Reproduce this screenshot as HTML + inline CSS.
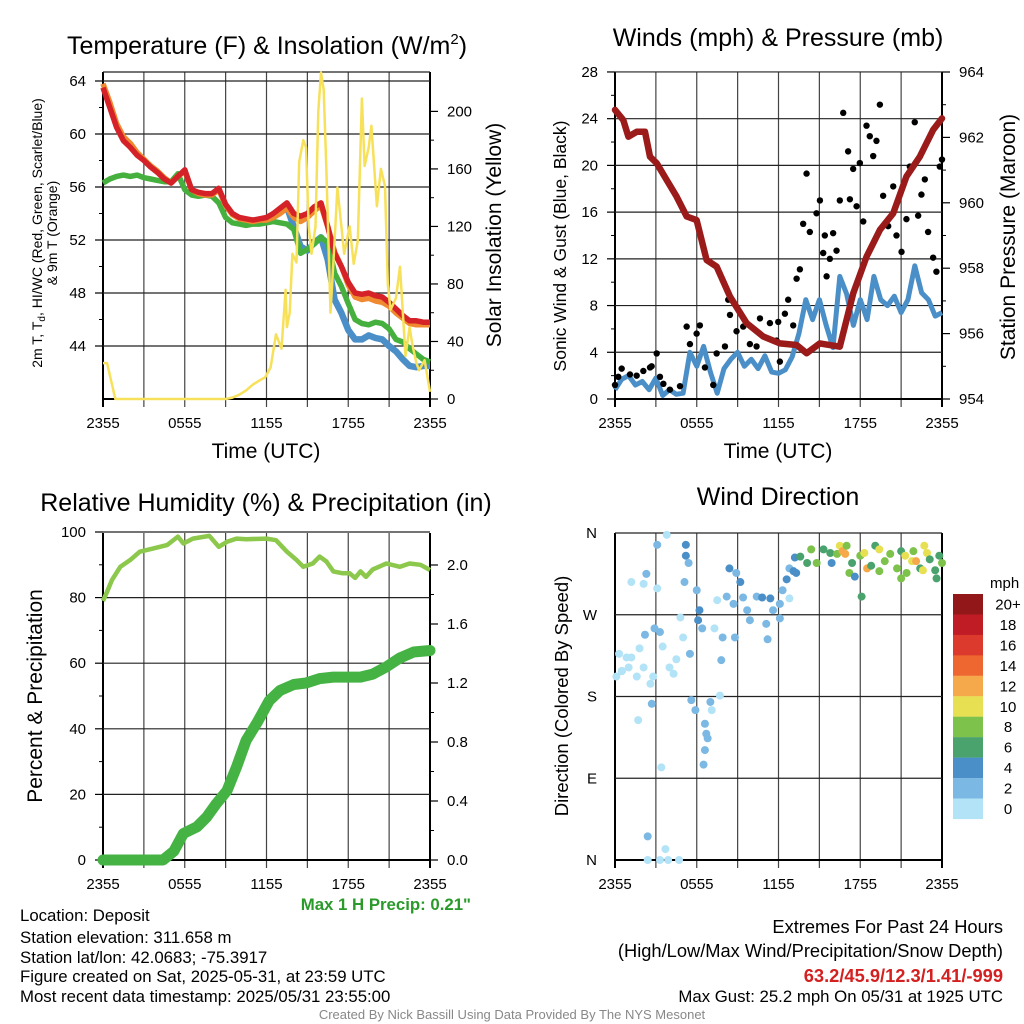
<!DOCTYPE html>
<html><head><meta charset="utf-8"><style>
html,body{margin:0;padding:0;background:#fff;}
svg{display:block;font-family:"Liberation Sans",Arial,sans-serif;}
</style></head><body>
<svg id="chart" xmlns="http://www.w3.org/2000/svg" width="1024" height="1024" viewBox="0 0 1024 1024">
<rect width="1024" height="1024" fill="#fff"/>
<text x="267" y="54" font-size="25" text-anchor="middle">Temperature (F) &amp; Insolation (W/m<tspan font-size="15" dy="-10">2</tspan><tspan dy="10">)</tspan></text>
<text x="778" y="46" font-size="25" text-anchor="middle">Winds (mph) &amp; Pressure (mb)</text>
<text x="266" y="511" font-size="25" text-anchor="middle">Relative Humidity (%) &amp; Precipitation (in)</text>
<text x="778" y="505" font-size="25" text-anchor="middle">Wind Direction</text>
<g id="g1"></g><g id="g2"></g><g id="g3"></g><g id="g4"></g>
<text x="266" y="458" font-size="21" text-anchor="middle">Time (UTC)</text>
<text x="778" y="458" font-size="21" text-anchor="middle">Time (UTC)</text>
<text transform="translate(42,233) rotate(-90)" font-size="14" text-anchor="middle">2m T, T<tspan font-size="10" dy="3">d</tspan><tspan dy="-3">, HI/WC (Red, Green, Scarlet/Blue)</tspan></text>
<text transform="translate(57,233) rotate(-90)" font-size="14" text-anchor="middle">&amp; 9m T (Orange)</text>
<text transform="translate(501,235) rotate(-90)" font-size="21" text-anchor="middle">Solar Insolation (Yellow)</text>
<text transform="translate(566,246) rotate(-90)" font-size="17.5" text-anchor="middle">Sonic Wind &amp; Gust (Blue, Black)</text>
<text transform="translate(1015,237) rotate(-90)" font-size="21" text-anchor="middle">Station Pressure (Maroon)</text>
<text transform="translate(42,696) rotate(-90)" font-size="21" text-anchor="middle">Percent &amp; Precipitation</text>
<text transform="translate(568,696) rotate(-90)" font-size="18.5" text-anchor="middle">Direction (Colored By Speed)</text>
<text x="471" y="910" font-size="16.8" font-weight="bold" fill="#2a9a2a" text-anchor="end">Max 1 H Precip: 0.21"</text>
<g font-size="16.8">
<text x="20" y="921">Location: Deposit</text>
<text x="20" y="943">Station elevation: 311.658 m</text>
<text x="20" y="963">Station lat/lon: 42.0683; -75.3917</text>
<text x="20" y="982">Figure created on Sat, 2025-05-31, at 23:59 UTC</text>
<text x="20" y="1002">Most recent data timestamp: 2025/05/31 23:55:00</text>
</g>
<g font-size="18.3" text-anchor="end">
<text x="1003" y="933">Extremes For Past 24 Hours</text>
<text x="1003" y="957">(High/Low/Max Wind/Precipitation/Snow Depth)</text>
<text x="1003" y="982" font-weight="bold" fill="#d42020">63.2/45.9/12.3/1.41/-999</text>
<text x="1003" y="1002" font-size="16.8">Max Gust: 25.2 mph On 05/31 at 1925 UTC</text>
</g>
<text x="512" y="1019" font-size="13" fill="#888" text-anchor="middle">Created By Nick Bassill Using Data Provided By The NYS Mesonet</text>
</svg>
<script>
// ---------- data ----------
const halfHours = [0,0.5,1,1.5,2,2.5,3,3.5,4,4.5,5,5.5,6,6.5,7,7.5,8,8.5,9,9.5,10,10.5,11,11.5,12,12.5,13,13.5,14,14.5,15,15.5,16,16.5,17,17.5,18,18.5,19,19.5,20,20.5,21,21.5,22,22.5,23,23.5,24];
const tempRed = [63.5,62,60.5,59.5,59,58.4,58,57.5,57.1,56.6,56.3,56.8,57.3,55.8,55.6,55.5,55.5,55.9,54.7,54,53.7,53.6,53.5,53.6,53.7,54,54.4,54.8,54,53.8,54,54.5,54.8,53,51,50,48.8,48,47.9,48,47.8,47.7,47.3,46.8,46.3,45.9,45.9,45.8,45.8];
const temp9m = [63.8,62.4,60.8,59.8,59.3,58.6,58.1,57.6,57.2,56.7,56.3,56.8,57.2,55.8,55.5,55.4,55.4,55.8,54.6,53.9,53.6,53.5,53.4,53.5,53.5,53.7,54,54.4,53.7,53.4,53.7,54.2,54.6,53,51.1,50,48.6,47.7,47.5,47.6,47.4,47.3,47,46.5,46.1,45.7,45.6,45.6,45.6];
const dewGreen = [56.3,56.6,56.8,56.9,56.8,56.9,56.7,56.6,56.5,56.4,56.4,57,55.8,55.4,55.3,55.4,55.3,54.8,53.7,53.3,53.2,53.1,53.2,53.2,53.3,53.4,53.3,53.2,52.8,51,51.3,51.7,52.2,51.8,49.5,48.5,47.2,46,45.7,45.6,45.8,45.7,45.3,44.5,44.3,43.8,43.4,43,42.8];
const hiwcBlue = [null,null,null,null,null,null,null,null,null,null,null,null,null,null,null,null,null,null,null,null,null,null,null,null,null,null,null,54.5,53,51.5,51.2,51.8,52.2,50.5,47.5,46.5,45.2,44.5,44.5,44.8,44.6,44.5,44,43.6,43,42.5,42.4,42.5,42.5];
const solarHours = [0,0.3,0.9,1.5,3,6,9,9.5,10,10.5,11,11.5,11.9,12.3,12.7,13.1,13.4,13.5,13.7,13.9,14.2,14.4,14.7,14.9,15.1,15.3,15.6,15.8,16.0,16.2,16.4,16.7,17.0,17.2,17.5,17.7,18.1,18.4,18.7,19.0,19.2,19.5,19.7,20.1,20.4,20.7,20.9,21.1,21.5,21.8,22.2,22.5,22.7,23.0,23.2,23.6,24];
const solarValues = [25,25,0,0,0,0,0,1,3,6,10,13,15,22,45,35,76,50,60,101,95,165,180,175,120,101,120,200,227,215,159,60,110,147,120,101,120,94,110,209,162,175,190,134,160,148,80,62,70,92,30,50,38,25,20,27,5];
const windSpeed = [0.8,1.7,2,1.2,1.5,0.8,1.8,0.3,0.8,0.4,0.5,4,2.8,4.5,2.3,0.5,2.6,3.4,4,2.8,3.4,2.6,3.7,2.3,2.2,2.5,3.6,5.6,8.5,6.8,8.5,6.3,4.4,10.5,9,6.3,8.5,6.8,10.5,8.5,8,8.8,7.4,8.5,11.4,9.1,8.5,7.1,7.4];
const pressHours = [0,0.61,0.98,1.59,2.2,2.57,3.06,3.79,4.52,5.26,5.99,6.72,7.46,8.44,9.66,10.88,12.1,13.33,14.06,15.04,16.5,17.48,18.46,19.44,20.42,21.39,22.37,23.35,24];
const pressValues = [962.84,962.53,962.02,962.17,962.17,961.41,961.21,960.7,960.19,959.58,959.47,958.25,958.05,957.13,956.32,955.91,955.7,955.65,955.4,955.7,955.6,957.23,958.35,959.17,959.68,960.8,961.41,962.23,962.58];
const gustHours = [0,0.24,0.49,1.1,1.59,2.08,2.57,3.06,2.69,3.3,3.55,4.03,4.77,5.26,5.5,5.99,6.23,6.6,7.21,7.46,8.07,8.44,8.31,8.92,9.41,9.9,10.39,10.64,11.37,11.86,11.98,12.1,12.47,12.71,13.08,13.33,13.57,13.81,14.06,14.3,14.79,15.04,15.28,15.4,15.53,15.77,16.01,16.26,16.5,16.75,17.11,17.24,17.48,17.73,17.97,18.22,18.46,18.7,18.95,19.19,19.44,19.68,20.05,20.42,20.66,21.03,21.39,21.64,22.0,22.25,22.49,22.74,22.98,23.35,23.59,23.84,24];
const gustValues = [1.2,1.9,2.6,2.1,2,2.4,2.7,3.9,2.8,1.9,1.3,0.8,1.1,6.2,4.7,5.6,6.3,2.7,1.2,3.9,4.5,7.2,8.5,5.8,6.2,4.7,4.5,6.9,6.5,5.0,6.6,3.2,7.3,8.5,6.3,10.3,11.1,15,19.3,14.3,15.9,17,12.5,14,10.5,12,14.2,12.7,17,24.5,21.2,17.1,19.7,16.5,20.2,15.2,23.4,22.5,20.8,22.1,25.2,17.4,14.8,18.2,14,12.6,15.4,19.9,23.7,15.7,17.5,18.8,14.3,12.1,10.9,19.9,20.5];
const rhHours = [0,0.3,0.66,1.27,2.0,2.7,3.7,4.7,5.5,5.9,6.6,7.8,8.5,9.1,9.8,10.5,12,12.7,13.5,14.2,14.7,15.4,15.9,16.4,16.9,17.6,18.1,18.5,18.9,19.3,19.8,20.8,21.8,22.5,23.3,24];
const rhValues = [79,81.8,85.4,89.4,91.5,94,95,96,98.6,96.5,98,98.8,95.5,97,98,97.8,98,97.5,94,91.5,89.4,90.4,92.5,91,88,87.4,87.4,86,88,86.3,88.6,90.4,89.4,90.4,90,88.4];
const precipHours = [0,4.4,5.2,5.9,6.9,7.6,8.3,9.1,9.8,10.5,11.3,12.2,13,14,14.9,15.9,16.9,18.9,19.8,20.8,21.8,22.8,24];
const precipValues = [0,0,0.06,0.18,0.225,0.29,0.38,0.47,0.63,0.81,0.93,1.08,1.15,1.19,1.2,1.23,1.24,1.24,1.26,1.31,1.37,1.41,1.42];
const dirHours = [0.1,0.3,0.5,0.85,1.0,1.2,1.6,0.5,1.8,2.1,2.3,2.2,2.1,1.2,2.6,2.7,1.7,2.8,3.1,3.1,2.9,3.3,3.5,3.8,3.4,2.4,2.4,3.3,3.9,4.7,3.7,4.0,4.3,4.5,4.8,5.0,5.1,5.2,5.2,5.4,5.5,5.6,5.9,6.0,6.2,6.1,6.4,6.6,6.7,6.6,6.5,6.8,7.1,7.0,7.3,7.5,7.7,7.8,7.9,8.2,8.4,8.7,8.8,8.9,9.2,9.4,9.7,9.9,10.4,10.8,11.1,11.2,11.4,11.6,12.1,12.1,12.3,12.8,12.6,12.8,13.1,13.3,13.2,13.6,14.1,14.4,14.8,15.3,15.8,15.9,16.3,16.5,16.7,16.9,17.0,17.2,17.4,17.6,18.0,18.1,18.3,18.5,18.8,19.1,19.4,19.4,19.8,20.2,20.7,21.0,21.0,21.3,21.4,21.8,21.9,22.1,22.4,22.6,22.7,22.9,23.1,23.5,23.6,23.8,24];
const dirDegrees = [202,227,208,223,212,223,202,208,233,212,315,248,304,306,194,172,154,202,347,299,255,251,235,358,102,26,0,0,0,0,12,212,205,221,267,245,306,347,335,327,227,176,165,297,275,264,255,150,139,121,105,134,165,174,255,286,181,220,245,290,321,282,245,316,306,289,275,264,290,289,260,243,288,275,282,266,297,288,309,321,318,316,333,334,327,342,327,342,338,327,337,346,340,337,346,316,327,312,335,290,338,321,324,346,342,318,329,337,321,340,310,335,316,329,340,329,321,319,346,338,331,319,310,335,327];
const dirSpeeds = [1,1,3,1,1,1,1,0,1,1,2,3,1,1,1,3,1,1,3,1,2,2,1,0,1,3,1,1,1,1,0,1,1,1,1,1,3,4,4,3,3,3,3,3,4,4,3,2,2,3,3,2,1,2,1,1,1,3,3,2,4,2,3,3,4,2,2,2,2,4,2,3,4,2,2,3,2,1,4,2,4,5,4,6,6,8,8,7,6,4,8,10,13,12,8,8,7,4,8,6,10,13,7,6,10,8,8,8,8,6,8,10,8,10,8,13,6,10,10,10,6,6,6,6,8];
const xTickLabels = ["2355","0555","1155","1755","2355"];
const tempTicks = [44,48,52,56,60,64];
const solarTicks = [0,40,80,120,160,200];
const windTicks = [0,4,8,12,16,20,24,28];
const pressTicks = [954,956,958,960,962,964];
const rhTicks = [0,20,40,60,80,100];
const precipTicks = [0.0,0.4,0.8,1.2,1.6,2.0];
const dirTickLabels = ["N","E","S","W","N"];
const dirTickValues = [0,90,180,270,360];
const legendLabels = ["20+","18","16","14","12","10","8","6","4","2","0"];
const legendColors = ["#911719","#bf1c25","#dc3a2d","#ee6630","#f5a94a","#e6e052","#7dc24a","#4aa36d","#4a8fc7","#7bb8e3","#b3e3f7"];

// ---------- helpers ----------
const NS = "http://www.w3.org/2000/svg";
function mk(tag, attrs, parent){const e=document.createElementNS(NS,tag);for(const k in attrs)e.setAttribute(k,attrs[k]);parent.appendChild(e);return e;}
const X1 = h => 103 + h*327/24;
const X2 = h => 615 + h*327/24;
const yT = t => 81 + (64-t)*13.25;
const yS = s => 399 - s*1.438;
const yW = v => 399 - v*11.68;
const yP = p => 399 - (p-954)*32.7;
const yR = r => 860 - r*3.28;
const yPr = p => 860 - p*147.5;
const yD = d => 860 - d*0.9083;
function pathFrom(xs, ys, xf, yf){let d="",pen=false;for(let i=0;i<xs.length;i++){if(ys[i]===null){pen=false;continue;}d+=(pen?"L":"M")+xf(xs[i]).toFixed(1)+","+yf(ys[i]).toFixed(1);pen=true;}return d;}
function colorFor(s){const idx=Math.min(10,Math.floor(s/2));return legendColors[10-idx];}

function frame(g, x0, y0, x1, y1, hGrid, xf){
  for(let h=0;h<=24;h+=3){
    const l=mk('line',{x1:xf(h),x2:xf(h),y1:y0,y2:y1+8,stroke:(h===0||h===24)?'#000':'#444','stroke-width':(h===0||h===24)?2:1.2},g);
    
    
  }
  hGrid.forEach(y=>{
    const l=mk('line',{x1:x0,x2:x1,y1:y,y2:y,stroke:'#222','stroke-width':1.2},g);
    
    
  });
  const b=mk('line',{x1:x0,x2:x1,y1:y1,y2:y1,stroke:'#000','stroke-width':2},g);
  
  
  xTickLabels.forEach((lab,i)=>{
    const t=mk('text',{x:xf(i*6),y:y1+29,'font-size':15,'text-anchor':'middle'},g);
    t.textContent=lab;
    
    
  });
}
function yTicks(g, x, side, vals, yf, fmt, minor){
  vals.forEach(v=>{
    const y=yf(v);
    const l=mk('line',{x1:x,x2:x+side*8,y1:y,y2:y,stroke:'#000','stroke-width':1.2},g);
    
    
    const t=mk('text',{x:x+side*17,y:y+5,'font-size':15,'text-anchor':side<0?'end':'start'},g);
    t.textContent=fmt(v);
    
    
  });
  if(minor){for(let i=0;i<vals.length-1;i++){const y=(yf(vals[i])+yf(vals[i+1]))/2;const l=mk('line',{x1:x,x2:x+side*4,y1:y,y2:y,stroke:'#000','stroke-width':1},g);}}
}

// ---------- panel 1 ----------
const g1=document.getElementById('g1');
frame(g1,103,72,430,399,[72].concat(tempTicks.map(yT)),X1);
yTicks(g1,103,-1,tempTicks,yT,v=>String(v),true);
yTicks(g1,430,1,solarTicks,yS,v=>String(v),true);
const blueLine=mk('path',{d:pathFrom(halfHours,hiwcBlue,X1,yT),fill:'none',stroke:'#4a8fc7','stroke-width':6.5,'stroke-linejoin':'round'},g1);


const greenLine=mk('path',{d:pathFrom(halfHours,dewGreen,X1,yT),fill:'none',stroke:'#45b03e','stroke-width':5.5,'stroke-linejoin':'round'},g1);


const orangeLine=mk('path',{d:pathFrom(halfHours,temp9m,X1,yT),fill:'none',stroke:'#f08a30','stroke-width':5.5,'stroke-linejoin':'round'},g1);


const redLine=mk('path',{d:pathFrom(halfHours,tempRed,X1,yT),fill:'none',stroke:'#d42228','stroke-width':5.5,'stroke-linejoin':'round'},g1);


const solarLine=mk('path',{d:pathFrom(solarHours,solarValues,X1,yS),fill:'none',stroke:'#f7e15a','stroke-width':2.5,'stroke-linejoin':'round'},g1);



// ---------- panel 2 ----------
const g2=document.getElementById('g2');
frame(g2,615,72,942,399,windTicks.map(yW),X2);
yTicks(g2,615,-1,windTicks,yW,v=>String(v),true);
yTicks(g2,942,1,pressTicks,yP,v=>String(v),true);
const windLine=mk('path',{d:pathFrom(halfHours,windSpeed,X2,yW),fill:'none',stroke:'#4a8fc7','stroke-width':5,'stroke-linejoin':'round'},g2);


for(let i=0;i<gustHours.length;i++){
  const c=mk('circle',{cx:X2(gustHours[i]),cy:yW(gustValues[i]),r:3.2,fill:'#000'},g2);
  
  
}
const pressLine=mk('path',{d:pathFrom(pressHours,pressValues,X2,yP),fill:'none',stroke:'#9b1b1b','stroke-width':6.5,'stroke-linejoin':'round','stroke-linecap':'round'},g2);



// ---------- panel 3 ----------
const g3=document.getElementById('g3');
frame(g3,103,533,430,860,rhTicks.map(yR),X1);
yTicks(g3,103,-1,rhTicks,yR,v=>String(v),true);
yTicks(g3,430,1,precipTicks,yPr,v=>v.toFixed(1),true);
const rhLine=mk('path',{d:pathFrom(rhHours,rhValues,X1,yR),fill:'none',stroke:'#8cc84b','stroke-width':4.5,'stroke-linejoin':'round'},g3);


const prLine=mk('path',{d:pathFrom(precipHours,precipValues,X1,yPr),fill:'none',stroke:'#45b344','stroke-width':11,'stroke-linejoin':'round','stroke-linecap':'round'},g3);



// ---------- panel 4 ----------
const g4=document.getElementById('g4');
frame(g4,615,533,942,860,dirTickValues.map(yD),X2);
dirTickValues.forEach((v,i)=>{
  const t=mk('text',{x:597,y:yD(v)+5,'font-size':15,'text-anchor':'end'},g4);
  t.textContent=dirTickLabels[i];
  
  
});
for(let i=0;i<dirHours.length;i++){
  const c=mk('circle',{cx:X2(dirHours[i]),cy:yD(dirDegrees[i]),r:4,fill:colorFor(dirSpeeds[i])},g4);
  
  
}
const lt=mk('text',{x:990,y:588,'font-size':15},g4);
lt.textContent='mph';


legendLabels.forEach((lab,i)=>{
  const r=mk('rect',{x:953,y:594+i*20.45,width:30,height:20.6,fill:legendColors[i]},g4);
  
  
  const t=mk('text',{x:1008,y:594+i*20.45+15.5,'font-size':15,'text-anchor':'middle'},g4);
  t.textContent=lab;
  
  
});
</script>
</body></html>
